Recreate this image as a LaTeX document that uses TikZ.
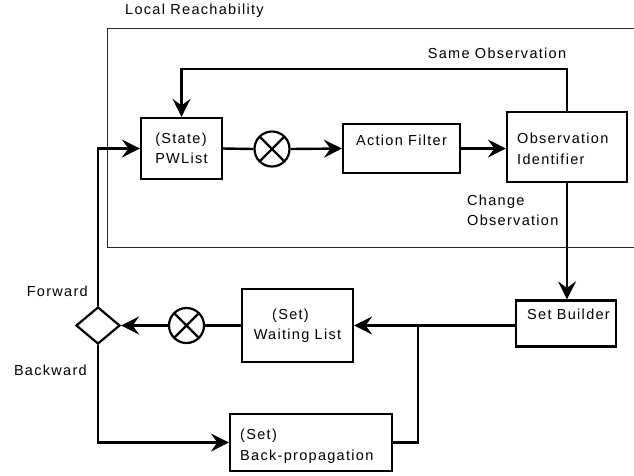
\documentclass[tikz,border=0pt]{standalone}
\usepackage{fontspec}
\setmainfont{Liberation Sans}[LetterSpace=9]
\usetikzlibrary{arrows.meta,shapes.geometric}
\begin{document}
\begin{tikzpicture}[x=1pt,y=-1pt,
  every node/.style={font=\fontsize{14.5}{20.5}\selectfont, inner sep=0pt},
  box/.style={draw, line width=2.2pt, rectangle, inner sep=0pt},
  mix/.style={draw, line width=2.2pt, circle, minimum size=35pt, inner sep=0pt,
    path picture={\draw[line width=2.2pt] (path picture bounding box.north west) -- (path picture bounding box.south east)
      (path picture bounding box.north east) -- (path picture bounding box.south west);}},
  gate/.style={draw, line width=2.2pt, diamond, minimum width=44pt, minimum height=37pt, inner sep=0pt},
  conn/.style={line width=2.4pt},
  arr/.style={conn, -{Stealth[length=18pt, width=18pt, inset=6.5pt]}},
  frame/.style={line width=1pt, draw=black!85}
]
\useasboundingbox (0,0) rectangle (634,475);
% frame
\draw[frame] (634,28) -- (107,28) -- (107,247) -- (634,247);
\node[anchor=west] (lr) at (125,11) {Local Reachability};

% boxes
\node[box, minimum width=81pt, minimum height=61pt, align=left] (pw) at (181.5,148.5) {(State)\\PWList};
\node[mix] (x1) at (272,149) {};
\node[box, minimum width=117pt, minimum height=49pt] (af) at (401.5,148.5) {};
\node (aft) at (401.5,140) {Action Filter};
\node[box, minimum width=120pt, minimum height=70pt] (oi) at (567,147) {};
\node[anchor=west, align=left] (oit) at (517,149) {Observation\\Identifier};
\node[box, minimum width=100pt, minimum height=46pt] (sb) at (566,323.5) {};
\node (sbt) at (568.5,314.5) {Set Builder};
\node[box, minimum width=111pt, minimum height=73pt, align=center] (wl) at (297.5,325.5) {(Set)\hspace*{14pt}\\Waiting List};
\node[mix] (x2) at (186.5,325.5) {};
\node[gate] (dm) at (98,325.5) {};
\node[box, minimum width=162pt, minimum height=57pt] (bp) at (311,442.5) {};
\node[anchor=west, align=left] (bpt) at (240,446) {(Set)\\Back-propagation};

% labels
\node (so) at (497,53) {Same Observation};
\node[anchor=west, align=left] (co) at (467,210.5) {Change\\Observation};
\node[anchor=east] (fw) at (88,291) {Forward};
\node[anchor=east] (bw) at (87,370) {Backward};

% connectors
\coordinate (top) at (0,69);
\coordinate (j) at (418,325.5);
\draw[arr] (oi.north) |- (pw.north |- top) -- (pw.north);
\draw[conn] (pw.east) -- (x1.west);
\draw[arr] (x1.east) -- (af.west);
\draw[arr] (af.east) -- (af.east -| oi.west);
\draw[arr] (oi.south) -- (oi.south |- sb.north);
\draw[arr] (sb.west |- wl.east) -- (wl.east);
\draw[conn] (bp.east) -| (j);
\draw[conn] (wl.west) -- (x2.east);
\draw[arr] (x2.west) -- (dm.east);
\draw[arr] (dm.north) |- (pw.west);
\draw[arr] (dm.south) |- (bp.west);
\end{tikzpicture}
\end{document}
